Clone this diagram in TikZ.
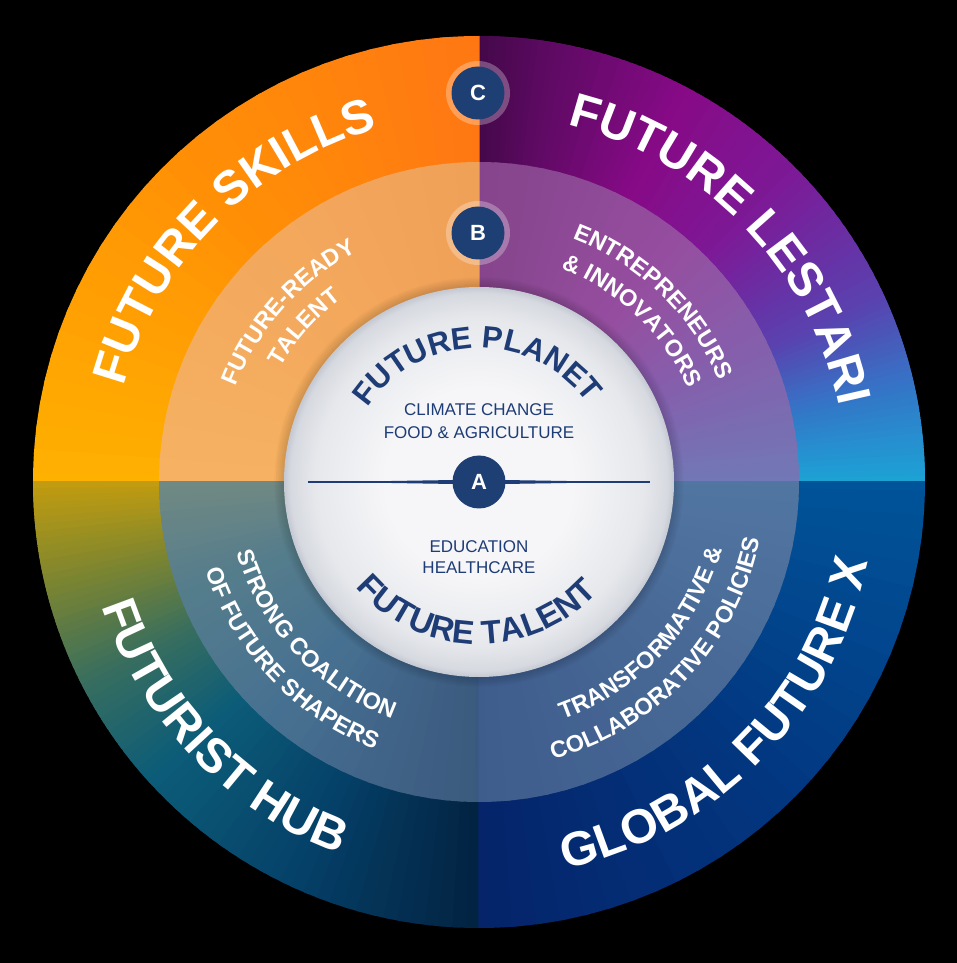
\documentclass[tikz,border=0pt]{standalone}
\usepackage{fontspec}
\setmainfont{Liberation Sans}
\usetikzlibrary{decorations.text}
\definecolor{navy}{RGB}{30,60,118}
\definecolor{badgeblue}{RGB}{29,63,115}
% top-right (Future Lestari)
\definecolor{qa0}{RGB}{25,170,215}
\definecolor{qa1}{RGB}{50,120,200}
\definecolor{qa2}{RGB}{90,65,175}
\definecolor{qa3}{RGB}{125,25,150}
\definecolor{qa4}{RGB}{135,10,135}
\definecolor{qa5}{RGB}{95,10,100}
\definecolor{qa6}{RGB}{62,8,68}
% top-left (Future Skills)
\definecolor{qb0}{RGB}{255,118,20}
\definecolor{qb1}{RGB}{255,145,5}
\definecolor{qb2}{RGB}{255,178,0}
% bottom-left (Futurist Hub)
\definecolor{qc0}{RGB}{205,160,10}
\definecolor{qc1}{RGB}{130,135,45}
\definecolor{qc2}{RGB}{55,110,95}
\definecolor{qc3}{RGB}{12,92,120}
\definecolor{qc4}{RGB}{5,65,105}
\definecolor{qc5}{RGB}{2,32,62}
% bottom-right (Global Future X)
\definecolor{qd0}{RGB}{5,35,105}
\definecolor{qd1}{RGB}{2,55,128}
\definecolor{qd2}{RGB}{0,85,155}
% middle ring
\definecolor{ma0}{RGB}{112,122,182}
\definecolor{ma1}{RGB}{128,100,175}
\definecolor{ma2}{RGB}{150,78,160}
\definecolor{ma3}{RGB}{132,68,138}
\definecolor{mb0}{RGB}{240,160,88}
\definecolor{mb1}{RGB}{246,178,98}
\definecolor{mc0}{RGB}{115,138,130}
\definecolor{mc1}{RGB}{85,125,140}
\definecolor{mc2}{RGB}{70,112,145}
\definecolor{mc3}{RGB}{58,88,125}
\definecolor{md0}{RGB}{62,92,140}
\definecolor{md1}{RGB}{72,105,150}
\definecolor{md2}{RGB}{82,118,162}
% disc
\definecolor{dz0}{RGB}{246,246,248}
\definecolor{dz1}{RGB}{230,232,236}
\definecolor{dz2}{RGB}{214,217,223}
\definecolor{dz3}{RGB}{196,200,210}
\pgfdeclareradialshading{discshade}{\pgfpoint{0bp}{0bp}}{color(0bp)=(dz0); color(12bp)=(dz0); color(21bp)=(dz1); color(24.2bp)=(dz2); color(25bp)=(dz3); color(50bp)=(dz3)}
\newcommand\conicseg[5][446]{%
  \foreach \i in {0,...,14}{%
    \pgfmathsetmacro\aa{#2+(#3-#2)*\i/15}%
    \pgfmathsetmacro\bb{#2+(#3-#2)*(\i+1)/15+0.8}%
    \pgfmathsetmacro\pp{100*(\i+0.5)/15}%
    \fill[#5!\pp!#4] (0,0) -- (\aa:#1pt) arc[start angle=\aa, end angle=\bb, radius=#1pt] -- cycle;
  }}
\newcommand\outerfont{\bfseries\fontsize{48}{48}\selectfont}
\newcommand\midfont{\bfseries\fontsize{23.5}{23.5}\selectfont}
\newcommand\planetfont{\bfseries\fontsize{31}{31}\selectfont}
\newcommand\talentfont{\bfseries\fontsize{33}{33}\selectfont}
\begin{document}
\begin{tikzpicture}[x=1pt,y=1pt,
  badge/.style={circle, fill=badgeblue, text=white, font=\bfseries\fontsize{22}{22}\selectfont, minimum size=53pt, inner sep=0pt},
  halo/.style={circle, fill=white, fill opacity=0.28, minimum size=64pt, inner sep=0pt},
  centertext/.style={text=navy, font=\fontsize{17}{17}\selectfont, inner sep=0pt, align=center},
  outerlab/.style={decorate, decoration={text along path, text align=center, text color=white, text={|\outerfont|#1}}},
  midlab/.style={decorate, decoration={text along path, text align=center, text color=white, text={|\midfont|#1}}},
  planetlab/.style={decorate, decoration={text along path, text align=center, text color=navy, text={|\planetfont|#1}}},
  talentlab/.style={decorate, decoration={text along path, text align=center, text color=navy, text={|\talentfont|#1}}}]
\useasboundingbox (-479,-481) rectangle (478,482);
\fill[black] (-479,-481) rectangle (478,482);
% ---------- outer ring (angular gradients) ----------
\begin{scope}
  \clip (-0.6,-0.6) rectangle (450,450);
  \conicseg{-2}{12}{qa0}{qa1}
  \conicseg{12}{25}{qa1}{qa2}
  \conicseg{25}{45}{qa2}{qa3}
  \conicseg{45}{62}{qa3}{qa4}
  \conicseg{62}{80}{qa4}{qa5}
  \conicseg{80}{92}{qa5}{qa6}
\end{scope}
\begin{scope}
  \clip (-450,-0.6) rectangle (0.6,450);
  \conicseg{88}{135}{qb0}{qb1}
  \conicseg{135}{182}{qb1}{qb2}
\end{scope}
\begin{scope}
  \clip (-450,-450) rectangle (0.6,0.6);
  \conicseg{178}{192}{qc0}{qc1}
  \conicseg{192}{207}{qc1}{qc2}
  \conicseg{207}{222}{qc2}{qc3}
  \conicseg{222}{245}{qc3}{qc4}
  \conicseg{245}{272}{qc4}{qc5}
\end{scope}
\begin{scope}
  \clip (-0.6,-450) rectangle (450,0.6);
  \conicseg{268}{315}{qd0}{qd1}
  \conicseg{315}{362}{qd1}{qd2}
\end{scope}
% ---------- middle ring ----------
\begin{scope}
  \clip (-0.6,-0.6) rectangle (450,450);
  \conicseg[320]{-2}{20}{ma0}{ma1}
  \conicseg[320]{20}{50}{ma1}{ma2}
  \conicseg[320]{50}{92}{ma2}{ma3}
\end{scope}
\begin{scope}
  \clip (-450,-0.6) rectangle (0.6,450);
  \conicseg[320]{88}{182}{mb0}{mb1}
\end{scope}
\begin{scope}
  \clip (-450,-450) rectangle (0.6,0.6);
  \conicseg[320]{178}{200}{mc0}{mc1}
  \conicseg[320]{200}{230}{mc1}{mc2}
  \conicseg[320]{230}{272}{mc2}{mc3}
\end{scope}
\begin{scope}
  \clip (-0.6,-450) rectangle (450,0.6);
  \conicseg[320]{268}{320}{md0}{md1}
  \conicseg[320]{320}{362}{md1}{md2}
\end{scope}
% shadow of inner disc
\foreach \k in {1,...,6}{
  \pgfmathsetmacro\rr{195+\k*1.6}
  \fill[black, opacity=0.025] (0,0) circle[radius=\rr pt];
}
% inner disc
\shade[shading=discshade] (0,0) circle[radius=195pt];
% divider line through A
\coordinate (lineL) at (-171,0);
\coordinate (lineR) at (171,0);
\draw[navy, line width=1.3pt] (lineL) -- (lineR);
\fill[navy] (-150,0) -- (0,2.4) -- (150,0) -- (0,-2.4) -- cycle;
% outer labels
\path[outerlab={FUTURE SKILLS}] (195.5:368pt) arc[start angle=195.5, end angle=75.5, radius=368pt];
\path[outerlab={FUTURE LESTARI}] (104:368pt) arc[start angle=104, end angle=-16, radius=368pt];
\path[outerlab={FUTURIST HUB}] (163.8:397pt) arc[start angle=163.8, end angle=283.8, radius=397pt];
\path[outerlab={GLOBAL FUTURE X}] (255.5:397pt) arc[start angle=255.5, end angle=375.5, radius=397pt];
% middle ring labels
\path[midlab={FUTURE-READY}] (193.3:261pt) arc[start angle=193.3, end angle=83.3, radius=261pt];
\path[midlab={TALENT}] (193.5:229pt) arc[start angle=193.5, end angle=83.5, radius=229pt];
\path[midlab={ENTREPRENEURS}] (101:261pt) arc[start angle=101, end angle=-9, radius=261pt];
\path[midlab={{\&} INNOVATORS}] (101.5:229pt) arc[start angle=101.5, end angle=-8.5, radius=229pt];
\path[midlab={STRONG COALITION}] (168:252pt) arc[start angle=168, end angle=278, radius=252pt];
\path[midlab={OF FUTURE SHAPERS}] (168.3:287pt) arc[start angle=168.3, end angle=278.3, radius=287pt];
\path[midlab={TRANSFORMATIVE {\&}}] (-98:252pt) arc[start angle=-98, end angle=12, radius=252pt];
\path[midlab={COLLABORATIVE POLICIES}] (-98.3:287pt) arc[start angle=-98.3, end angle=11.7, radius=287pt];
% inner labels
\path[planetlab={FUTURE PLANET}] (176:134pt) arc[start angle=176, end angle=6, radius=134pt];
\path[talentlab={FUTURE TALENT}] (184:162pt) arc[start angle=184, end angle=354, radius=162pt];
\node[centertext] (climate) at (0,72) {CLIMATE CHANGE};
\node[centertext] (food) at (0,49) {FOOD \& AGRICULTURE};
\node[centertext] (edu) at (0,-65) {EDUCATION};
\node[centertext] (health) at (0,-86) {HEALTHCARE};
% badges
\node[halo] (Chalo) at (-1,389) {};
\node[badge] (C) at (-1,389) {C};
\node[halo] (Bhalo) at (-1,249) {};
\node[badge] (B) at (-1,249) {B};
\node[badge] (A) at (0,0) {A};
\end{tikzpicture}
\end{document}
